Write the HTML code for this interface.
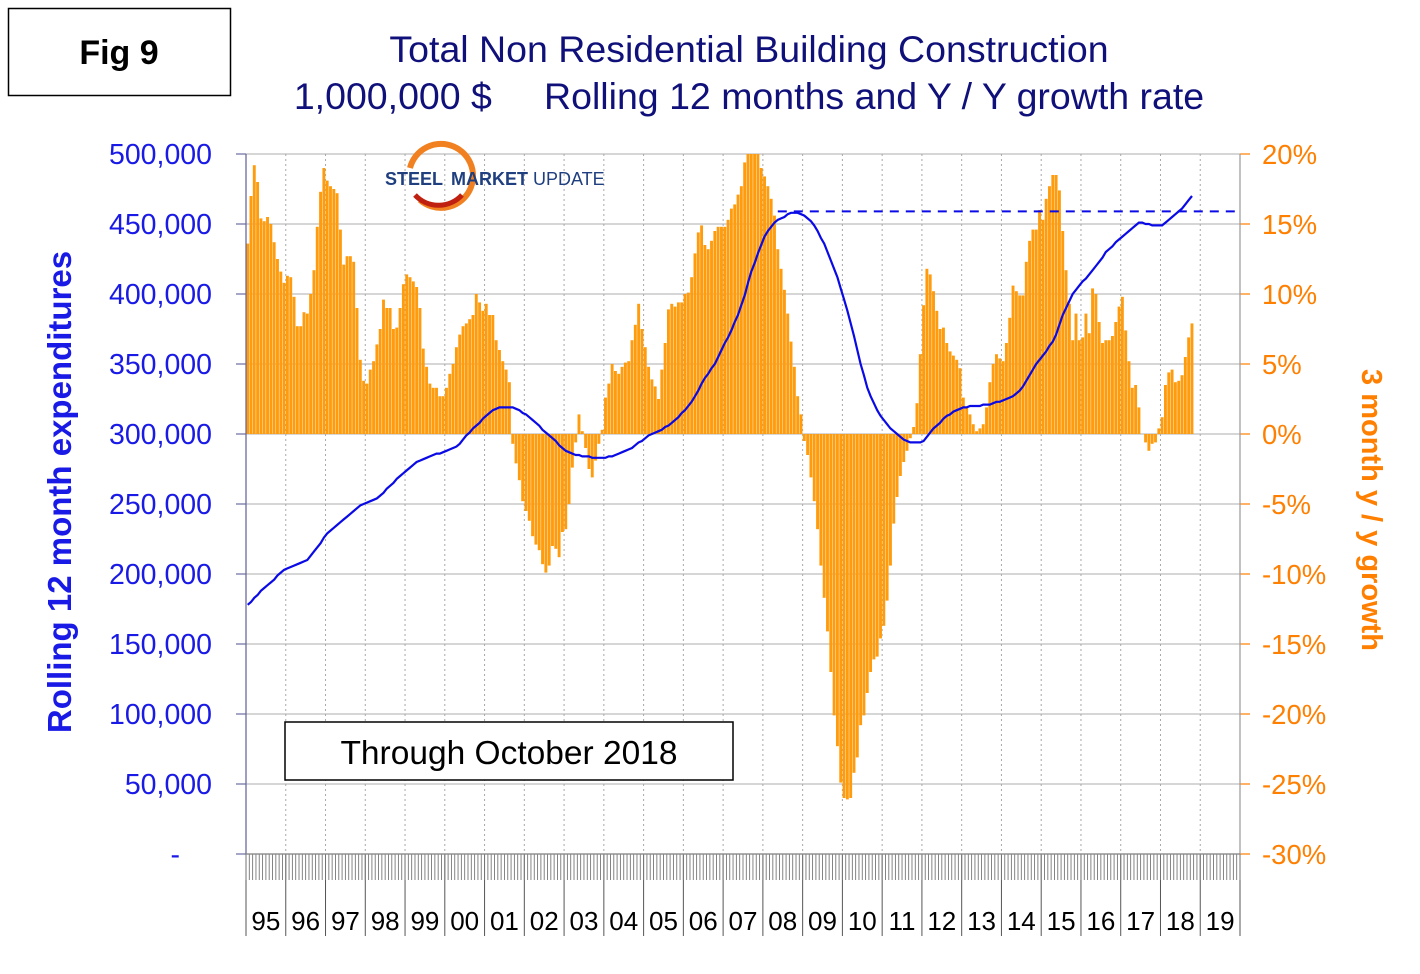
<!DOCTYPE html>
<html><head><meta charset="utf-8"><style>
body{margin:0;background:#fff;}
svg text{font-family:"Liberation Sans",Arial,sans-serif;}
</style></head><body>
<svg id="chart" width="1420" height="969" viewBox="0 0 1420 969" xmlns="http://www.w3.org/2000/svg">
<rect x="8.5" y="8.5" width="222" height="87" fill="#fff" stroke="#000" stroke-width="1.5"/>
<text x="119" y="64" font-size="34" font-weight="bold" text-anchor="middle">Fig 9</text>
<text x="749" y="62" font-size="37.5" fill="#10107a" text-anchor="middle">Total Non Residential Building Construction</text>
<text x="749" y="109" font-size="37.5" fill="#10107a" text-anchor="middle" xml:space="preserve">1,000,000 $     Rolling 12 months and Y / Y growth rate</text>
<g id="grid"></g>
<g id="bars"></g>
<g id="line"></g>
<g id="axes"></g>
<g>
<path d="M410,168 A32,32 0 1 1 420,200" fill="none" stroke="#f08020" stroke-width="6"/>
<path d="M415,195 A32,32 0 0 0 462,195" fill="none" stroke="#c02010" stroke-width="5"/>
<text x="385" y="185" font-size="18" font-weight="bold" fill="#1f3f7f">STEEL</text>
<text x="451" y="185" font-size="18" fill="#1f3f7f"><tspan font-weight="bold">MARKET</tspan> UPDATE</text>
</g>
<rect x="285" y="722" width="448" height="58" fill="#fff" stroke="#000" stroke-width="1.5"/>
<text x="509" y="764" font-size="33.5" text-anchor="middle">Through October 2018</text>
<text transform="translate(71,492) rotate(-90)" font-size="33" font-weight="bold" fill="#1a1ae6" text-anchor="middle">Rolling 12 month expenditures</text>
<text transform="translate(1362,510) rotate(90)" font-size="29" font-weight="bold" fill="#ff7f00" text-anchor="middle">3 month y / y growth</text>
</svg>
<script>
const years=["95","96","97","98","99","00","01","02","03","04","05","06","07","08","09","10","11","12","13","14","15","16","17","18","19"];
const leftTicks=[0,50000,100000,150000,200000,250000,300000,350000,400000,450000,500000];
const rightTicks=[-30,-25,-20,-15,-10,-5,0,5,10,15,20];
const growth=[13.6,17.0,19.2,18.0,15.4,15.2,15.5,15.0,13.7,12.5,11.6,10.8,
11.3,11.2,9.8,7.7,7.7,8.7,8.6,10.0,11.7,14.8,17.3,19.0,
18.1,17.7,17.5,17.2,14.6,12.1,12.7,12.7,12.3,9.0,5.3,3.8,
3.6,4.6,5.2,6.4,7.5,9.6,9.0,9.0,7.5,7.6,9.0,10.7,
11.4,11.2,10.9,10.5,9.0,6.1,4.8,3.6,3.3,3.3,2.7,2.7,
3.3,4.3,5.0,6.2,7.1,7.7,7.9,8.2,8.5,10.0,9.4,8.8,
9.3,8.5,8.5,6.7,6.0,5.2,4.6,3.7,-0.7,-2.1,-3.3,-4.8,
-5.5,-6.2,-7.3,-7.9,-8.3,-9.3,-9.9,-9.4,-8.0,-8.2,-8.8,-7.0,
-6.8,-5.0,-2.4,-0.6,1.4,0.2,-1.0,-2.5,-3.1,-1.9,-0.7,0.3,
2.6,3.6,5.0,4.5,4.3,4.8,5.1,5.2,6.7,7.8,9.3,7.5,
6.2,4.8,3.9,3.4,2.5,4.6,6.5,8.9,9.3,9.1,9.4,9.4,
10.0,10.1,11.2,12.9,14.4,14.9,13.5,13.2,13.8,14.5,14.8,14.8,
14.8,15.3,16.1,16.4,17.1,17.7,19.4,20,20,20,20,19,
18.4,17.7,16.8,15.6,13.2,11.8,10.3,8.6,6.6,4.8,2.7,1.4,
-0.5,-1.5,-3.1,-4.8,-6.8,-9.4,-11.7,-14.1,-17.0,-20.1,-22.3,-24.9,
-26.0,-26.1,-26.0,-24.2,-23.1,-20.8,-20.1,-18.5,-17.0,-16.1,-15.9,-14.6,
-13.7,-11.9,-9.4,-6.4,-4.5,-3.0,-2.0,-1.2,-0.3,0.5,2.2,5.7,
9.2,11.8,11.4,10.2,8.8,7.5,7.6,6.5,5.9,5.6,5.3,4.7,
2.6,1.9,1.4,0.7,0.2,0.4,0.7,1.9,3.7,5.0,5.7,5.4,
5.2,6.5,8.3,10.6,10.2,9.9,9.9,12.3,13.8,14.6,14.6,16.0,
15.3,16.8,17.7,18.5,18.5,17.4,14.5,11.7,9.3,6.7,8.6,6.7,
6.9,8.6,7.2,10.4,10.0,8.0,6.5,6.7,6.7,7.0,8.0,9.1,
9.8,7.4,5.2,3.3,3.5,1.9,0,-0.6,-1.2,-0.7,-0.6,0.4,
1.2,3.5,4.4,4.6,3.7,3.8,4.2,5.5,6.9,7.9];
const rolling=[178,180,183,185,188,190,192,194,196,199,201,203,
204,205,206,207,208,209,210,213,216,219,222,226,
229,231,233,235,237,239,241,243,245,247,249,250,
251,252,253,254,256,258,261,263,265,268,270,272,
274,276,278,280,281,282,283,284,285,286,286,287,
288,289,290,291,293,296,299,301,304,306,308,311,
313,315,317,318,319,319,319,319,319,318,317,315,
314,312,310,308,306,303,301,299,297,295,292,290,
288,287,286,285,285,284,284,284,283,283,283,283,
283,284,284,285,286,287,288,289,290,292,294,295,
297,299,300,301,302,303,305,306,308,310,312,315,
317,320,323,327,331,336,340,343,347,350,355,360,
365,369,374,380,385,392,399,408,416,422,429,435,
441,445,448,451,453,454,455,457,458,458,458,457,
456,454,452,449,445,440,436,430,424,418,412,404,
396,388,379,370,360,350,342,333,327,322,317,313,
310,307,304,302,300,298,296,295,294,294,294,294,
295,298,301,304,306,308,311,313,314,316,317,318,
319,319,320,320,320,320,321,321,321,322,323,323,
324,325,326,327,329,331,334,338,342,346,350,353,
356,359,363,366,371,378,385,390,395,400,403,406,
409,411,414,417,420,423,426,430,432,434,437,439,
441,443,445,447,449,451,451,450,450,449,449,449,
449,451,453,455,457,459,461,464,467,470];
const refLevel=[459];

const NS="http://www.w3.org/2000/svg";
const X0=246,X1=1240,Y0=154,Y1=854,MW=(X1-X0)/(years.length*12);
const xm=m=>X0+(m+0.5)*MW;
const yL=v=>Y1-(v/500000)*(Y1-Y0);
const yR=p=>Y1-((p+30)/50)*(Y1-Y0);
function mk(tag,attrs,parent){const e=document.createElementNS(NS,tag);for(const k in attrs)e.setAttribute(k,attrs[k]);parent.appendChild(e);return e;}
const grid=document.getElementById('grid'),bars=document.getElementById('bars'),line=document.getElementById('line'),axes=document.getElementById('axes');

leftTicks.forEach((t,i)=>{
  const y=yL(t);
  const g=mk('line',{x1:X0,x2:X1,y1:y,y2:y,stroke:'#bdbdbd','stroke-width':1.3},grid);
  
  
  const tk=mk('line',{x1:236,x2:X0,y1:y,y2:y,stroke:'#6a6aa0','stroke-width':1.2},axes);
  
  
  const lb=mk('text',{x:212,y:y+10,'font-size':28.5,fill:'#1a1ae6','text-anchor':'end'},axes);
  lb.textContent=t===0?'-':t.toLocaleString('en-US');
  if(t===0)lb.setAttribute('x',180);
  
  
});
rightTicks.forEach(p=>{
  const y=yR(p);
  const tk=mk('line',{x1:X1,x2:1250,y1:y,y2:y,stroke:'#ff7f00','stroke-width':1.2},axes);
  
  
  const lb=mk('text',{x:1262,y:y+10,'font-size':27.5,fill:'#ff7f00'},axes);
  lb.textContent=p+'%';
  
  
});
years.forEach((yr,i)=>{
  const x=X0+i*12*MW;
  if(i>0){const v=mk('line',{x1:x,x2:x,y1:Y0,y2:Y1,stroke:'#a8a8a8','stroke-width':1,'stroke-dasharray':'2,3'},grid);
  
  }
  const s=mk('line',{x1:x,x2:x,y1:Y1,y2:936,stroke:'#555','stroke-width':1},axes);
  
  
  const lb=mk('text',{x:x+12*MW/2,y:930,'font-size':26,'text-anchor':'middle'},axes);
  lb.textContent=yr;
  
  
});
mk('line',{x1:X1,x2:X1,y1:Y1,y2:936,stroke:'#555'},axes);
for(let m=0;m<=years.length*12;m++){
  const x=X0+m*MW;
  const t=mk('line',{x1:x,x2:x,y1:Y1,y2:880,stroke:'#777','stroke-width':0.9},axes);
  
  
}
const ax=mk('line',{x1:X0,x2:X0,y1:Y0,y2:Y1,stroke:'#6a6aa0','stroke-width':1.3},axes);


const ar=mk('line',{x1:X1,x2:X1,y1:Y0,y2:Y1,stroke:'#a0a0a0','stroke-width':1.3},axes);


const ab=mk('line',{x1:X0,x2:X1,y1:Y1,y2:Y1,stroke:'#888','stroke-width':1.3},axes);



const z=yR(0);
growth.forEach((p,m)=>{
  const y=yR(p);
  const r=mk('rect',{x:xm(m)-1.45,y:Math.min(y,z),width:2.9,height:Math.abs(y-z),fill:'#ff9c0e'},bars);
  
  
});
const pts=rolling.map((v,m)=>xm(m).toFixed(1)+','+yL(v*1000).toFixed(1)).join(' ');
const pl=mk('polyline',{points:pts,fill:'none',stroke:'#0a0ae6','stroke-width':2.2},line);


const peakIdx=rolling.indexOf(Math.max(...rolling.slice(0,200)));
const dl=mk('line',{x1:xm(peakIdx-4),x2:1235,y1:yL(refLevel[0]*1000),y2:yL(refLevel[0]*1000),stroke:'#0a0ae6','stroke-width':2,'stroke-dasharray':'9,7'},line);


</script>
</body></html>
